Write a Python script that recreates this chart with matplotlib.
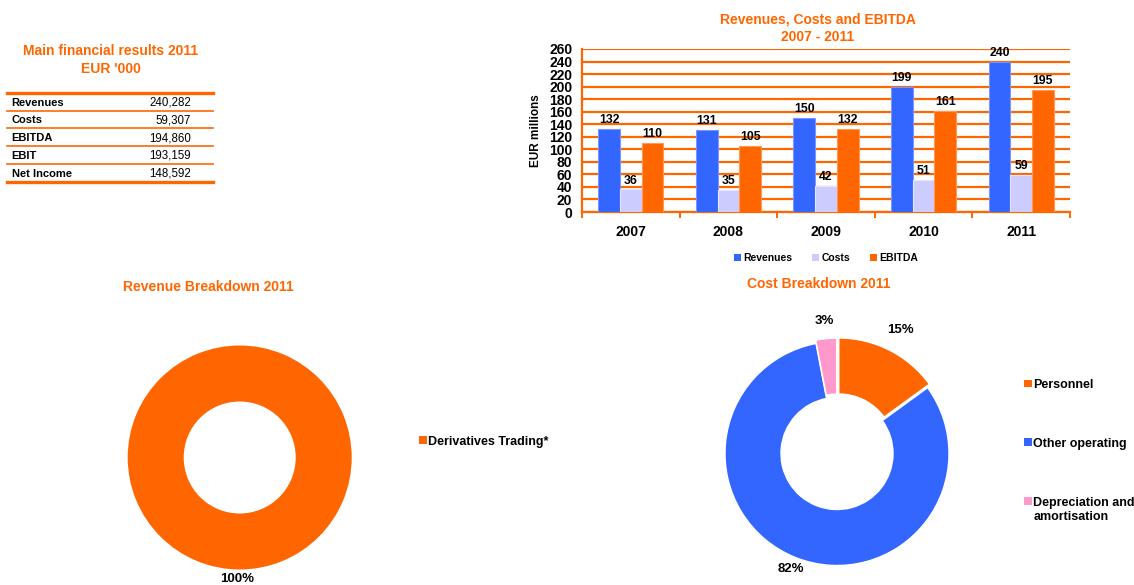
import numpy as np
import matplotlib
matplotlib.use("Agg")
import matplotlib.pyplot as plt
from matplotlib.patches import Patch

plt.rcParams['font.family'] = ['Liberation Sans', 'DejaVu Sans']

# ---------------- data ----------------
table_items = ['Revenues', 'Costs', 'EBITDA', 'EBIT', 'Net Income']
table_values = [240282, 59307, 194860, 193159, 148592]

years = ['2007', '2008', '2009', '2010', '2011']
revenues = [132, 131, 150, 199, 240]
costs = [36, 35, 42, 51, 59]
ebitda = [110, 105, 132, 161, 195]
bar_series = ['Revenues', 'Costs', 'EBITDA']

revenue_parts = ['Derivatives Trading*']
revenue_shares = [100]

cost_parts = ['Personnel', 'Other operating', 'Depreciation and\namortisation']
cost_shares = [15, 82, 3]

# ---------------- style ----------------
ORANGE = '#FF6600'
BLUE = '#3366FF'
LILAC = '#CCCCFF'
PINK = '#FF99CC'

W, H = 1134, 585
fig = plt.figure(figsize=(W / 100, H / 100), dpi=100)


def rect(left, top, right, bottom):
    """Pixel box -> figure fraction [l, b, w, h]."""
    return [left / W, 1 - bottom / H, (right - left) / W, (bottom - top) / H]


def fy(y):
    return 1 - y / H


def top_align_rows(leg):
    """Align each legend marker with the first line of its label."""
    for column in leg._legend_handle_box.get_children():
        for row in column.get_children():
            row.align = 'top'


# ---------------- summary table ----------------
fig.text(111 / W, fy(51), 'Main financial results 2011', color=ORANGE,
         fontsize=10, fontweight='bold', ha='center', va='center')
fig.text(111 / W, fy(69), "EUR '000", color=ORANGE,
         fontsize=10, fontweight='bold', ha='center', va='center')

tax = fig.add_axes(rect(7, 93, 213, 181.7))
tax.set_xlim(0, 1)
tax.set_ylim(len(table_items), 0)
tax.axis('off')
for i in range(len(table_items) + 1):
    edge = i in (0, len(table_items))
    tax.axhline(i, color=ORANGE, lw=2.4 if edge else 1.2, clip_on=False)
for i, (name, val) in enumerate(zip(table_items, table_values)):
    tax.text(0.023, i + 0.55, name, fontsize=8, fontweight='bold',
             ha='left', va='center')
    tax.text(0.892, i + 0.55, f'{val:,}', fontsize=8.3,
             ha='right', va='center')

# ---------------- bar chart ----------------
fig.text(818 / W, fy(19), 'Revenues, Costs and EBITDA', color=ORANGE,
         fontsize=10, fontweight='bold', ha='center', va='center')
fig.text(818 / W, fy(37), '2007 - 2011', color=ORANGE,
         fontsize=10, fontweight='bold', ha='center', va='center')

bax = fig.add_axes(rect(582, 49, 1070, 212))
x = np.arange(len(years))
bw = 0.222
groups = [(revenues, BLUE, '#7b95ff'), (costs, LILAC, '#e6e6ff'),
          (ebitda, ORANGE, '#ff9955')]
bar_handles = []
for k, (vals, col, edge) in enumerate(groups):
    bars = bax.bar(x + (k - 1) * bw, vals, bw, color=col, edgecolor=edge,
                   linewidth=0.8, zorder=3)
    bax.bar_label(bars, padding=2, fontsize=8.8, fontweight='bold')
    bar_handles.append(Patch(facecolor=col, label=bar_series[k]))

bax.set_xlim(-0.5, len(years) - 0.5)
bax.set_ylim(0, 260)
bax.set_yticks(np.arange(0, 261, 20))
bax.set_xticks(x)
bax.set_xticklabels(years)
bax.set_xticks(np.arange(-0.5, len(years), 1), minor=True)
bax.yaxis.grid(True, color=ORANGE, lw=1.6, zorder=0)
bax.set_axisbelow(True)
for s in ('top', 'right'):
    bax.spines[s].set_visible(False)
for s in ('left', 'bottom'):
    bax.spines[s].set_color(ORANGE)
    bax.spines[s].set_linewidth(1.6)
bax.tick_params(axis='y', length=0, pad=7, labelsize=10)
bax.tick_params(axis='x', which='major', length=0, pad=9, labelsize=10)
bax.tick_params(axis='x', which='minor', length=4, width=1.4, color=ORANGE)
for lab in bax.get_xticklabels() + bax.get_yticklabels():
    lab.set_fontweight('bold')
bax.set_ylabel('EUR millions', fontsize=8.5, fontweight='bold', labelpad=5)

fig.legend(handles=bar_handles, loc='center', bbox_to_anchor=(826 / W, fy(258)),
           ncol=3, frameon=False, handlelength=0.7, handleheight=0.7,
           handletextpad=0.2, columnspacing=1.9, borderpad=0,
           prop={'size': 7.5, 'weight': 'bold'})

# ---------------- revenue breakdown donut ----------------
fig.text(208 / W, fy(287), 'Revenue Breakdown 2011', color=ORANGE,
         fontsize=10, fontweight='bold', ha='center', va='center')
rax = fig.add_axes(rect(127.7, 345.5, 351.7, 569.5))
rw, _ = rax.pie(revenue_shares, colors=[ORANGE], startangle=90,
                counterclock=False, radius=1,
                wedgeprops=dict(width=0.5, edgecolor='none'))
rax.set_xlim(-1, 1)
rax.set_ylim(-1, 1)
rax.set_aspect('equal')
total = sum(revenue_shares)
for wdg, v in zip(rw, revenue_shares):
    ang = np.deg2rad((wdg.theta1 + wdg.theta2) / 2)
    rax.text(1.085 * np.cos(ang) - 0.02, 1.085 * np.sin(ang), f'{v / total:.0%}',
             fontsize=9.5, fontweight='bold', ha='center', va='center')
rev_handles = [Patch(facecolor=wdg.get_facecolor(), label=lab)
               for wdg, lab in zip(rw, revenue_parts)]
rax.legend(handles=rev_handles, loc='center left',
           bbox_to_anchor=(419.3 / W, fy(441.7)), bbox_transform=fig.transFigure,
           frameon=False, handlelength=0.58, handleheight=0.58,
           handletextpad=0.15, borderpad=0, borderaxespad=0,
           prop={'size': 9, 'weight': 'bold'})

# ---------------- cost breakdown donut ----------------
fig.text(819 / W, fy(284), 'Cost Breakdown 2011', color=ORANGE,
         fontsize=10, fontweight='bold', ha='center', va='center')
cax = fig.add_axes(rect(725, 341.5, 949, 565.5))
cw, _ = cax.pie(cost_shares, colors=[ORANGE, BLUE, PINK], startangle=90,
                counterclock=False, radius=1, explode=[0.035, 0, 0.03],
                wedgeprops=dict(width=0.5, edgecolor='white', linewidth=1.0))
cax.set_xlim(-1, 1)
cax.set_ylim(-1, 1)
cax.set_aspect('equal')
label_dist = [1.24, 1.11, 1.19]
total = sum(cost_shares)
for wdg, v, d in zip(cw, cost_shares, label_dist):
    ang = np.deg2rad((wdg.theta1 + wdg.theta2) / 2)
    cax.text(d * np.cos(ang), d * np.sin(ang), f'{v / total:.0%}',
             fontsize=9.5, fontweight='bold', ha='center', va='center')
cost_handles = [Patch(facecolor=wdg.get_facecolor(), label=lab)
                for wdg, lab in zip(cw, cost_parts)]
leg = cax.legend(handles=cost_handles, loc='upper left',
                 bbox_to_anchor=(1024.3 / W, fy(379.5)),
                 bbox_transform=fig.transFigure,
                 frameon=False, handlelength=0.58, handleheight=0.58,
                 handletextpad=0.15, borderpad=0, borderaxespad=0,
                 labelspacing=3.75, prop={'size': 9, 'weight': 'bold'})
top_align_rows(leg)

fig.savefig('out.png', dpi=100)
